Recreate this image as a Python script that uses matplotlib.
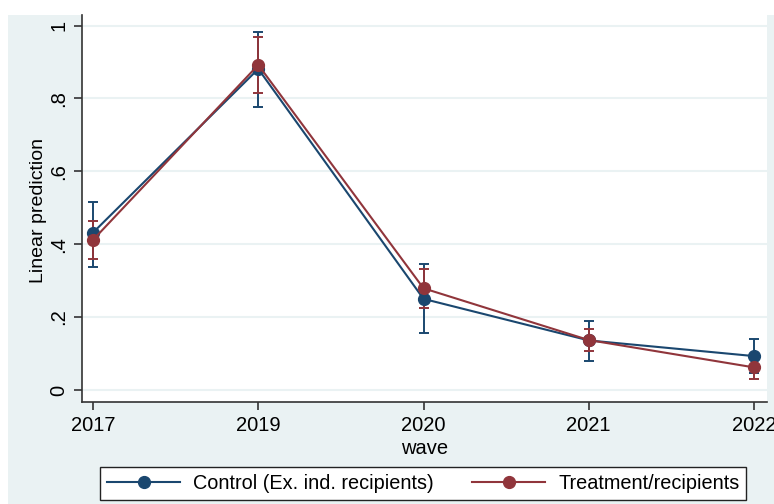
import matplotlib.pyplot as plt
from matplotlib.patches import Rectangle

plt.rcParams['font.family'] = ['Liberation Sans', 'DejaVu Sans']

waves = ["2017", "2019", "2020", "2021", "2022"]

ctrl = [0.432, 0.881, 0.250, 0.136, 0.093]
ctrl_lo = [0.338, 0.777, 0.155, 0.080, 0.046]
ctrl_hi = [0.515, 0.981, 0.345, 0.188, 0.139]

treat = [0.412, 0.892, 0.279, 0.137, 0.062]
treat_lo = [0.359, 0.814, 0.226, 0.107, 0.031]
treat_hi = [0.465, 0.970, 0.332, 0.168, 0.089]

yticks = [0, 0.2, 0.4, 0.6, 0.8, 1]
ytick_labels = ["0", ".2", ".4", ".6", ".8", "1"]

blue = "#1a476f"
red = "#90353b"
bg = "#eaf2f3"

fig = plt.figure(figsize=(7.74, 5.04), dpi=100, facecolor=bg)
# white strips where the screenshot was cut
fig.patches.append(Rectangle((0, 1 - 15/504), 1, 15/504, transform=fig.transFigure,
                             facecolor="white", edgecolor="none", zorder=-1))
fig.patches.append(Rectangle((0, 0), 8/774, 1, transform=fig.transFigure,
                             facecolor="white", edgecolor="none", zorder=-1))

ax = fig.add_axes([82/774, 1 - 402/504, (767 - 82)/774, (402 - 15)/504])
ax.set_facecolor("white")

x = list(range(len(waves)))
for y, lo, hi, c, lab in [(ctrl, ctrl_lo, ctrl_hi, blue, "Control (Ex. ind. recipients)"),
                          (treat, treat_lo, treat_hi, red, "Treatment/recipients")]:
    err = [[v - l for v, l in zip(y, lo)], [h - v for v, h in zip(y, hi)]]
    ax.errorbar(x, y, yerr=err, fmt="none", ecolor=c, elinewidth=1.4,
                capsize=3.8, capthick=1.4, zorder=3)
    ax.plot(x, y, color=c, lw=1.5, marker="o", markersize=8.5, label=lab, zorder=4)

ax.set_xlim(-0.067, 4.079)
ax.set_ylim(-0.033, 1.029)
ax.set_xticks(x)
ax.set_xticklabels(waves, fontsize=14.5)
ax.set_yticks(yticks)
ax.set_yticklabels(ytick_labels, fontsize=14.5, rotation=90, va="center")
ax.yaxis.grid(True, color=bg, lw=1.5)
ax.set_axisbelow(True)
for s in ["top", "right"]:
    ax.spines[s].set_visible(False)
for s in ["left", "bottom"]:
    ax.spines[s].set_color("#333333")
    ax.spines[s].set_linewidth(1.2)
ax.tick_params(axis="both", length=6, width=1.2, color="#333333", pad=4)
ax.set_xlabel("wave", fontsize=14.5, labelpad=3)
ax.set_ylabel("Linear prediction", fontsize=14, labelpad=4)
ax.yaxis.set_label_coords(-0.051, 0.495)

fig.legend(loc="upper left", bbox_to_anchor=(100/774, 1 - 467/504), ncol=2,
           fontsize=14.3, frameon=True, fancybox=False, edgecolor="#222222",
           framealpha=1, handlelength=3.7, handletextpad=0.65, columnspacing=1.9,
           borderaxespad=0, borderpad=0.35)

fig.savefig("out.png", dpi=100, facecolor=bg)
